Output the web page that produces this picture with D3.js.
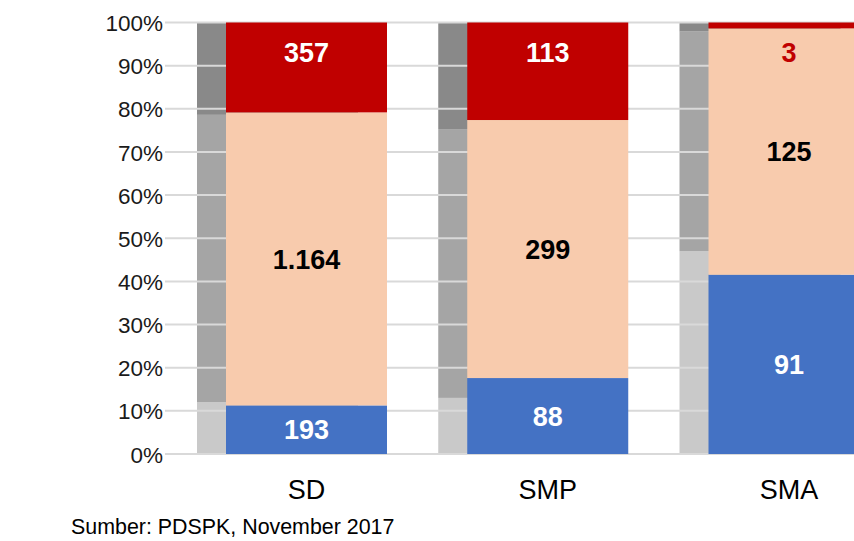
<!DOCTYPE html>
<html>
<head>
<meta charset="utf-8">
<script src="https://cdn.jsdelivr.net/npm/d3@7/dist/d3.min.js"></script>
<style>
  html, body { margin: 0; padding: 0; background: #fff; }
  svg { display: block; font-family: "Liberation Sans", Arial, sans-serif; }
</style>
</head>
<body>
<svg id="chart" width="854" height="541"></svg>
<script>
// ---- data ----
const categories = ["SD", "SMP", "SMA"];
const seriesNames = ["blue", "peach", "red"];
const blueValues  = [193, 88, 91];
const peachValues = [1164, 299, 125];
const redValues   = [357, 113, 3];
// background grey comparison bars (percent shares)
const greyLight = [12.0, 13.0, 47.0];
const greyMid   = [66.6, 62.3, 50.9];
const greyDark  = [21.4, 24.7, 2.1];
const yTicks = [0, 10, 20, 30, 40, 50, 60, 70, 80, 90, 100];
const sourceText = "Sumber: PDSPK, November 2017";

const colors = { blue: "#4472C4", peach: "#F8CBAD", red: "#C00000" };
const greyColors = ["#C9C9C9", "#A5A5A5", "#898989"];

const svg = d3.select("#chart");
const W = 854, H = 541;

const y = d3.scaleLinear().domain([0, 100]).range([454, 22.5]);
const x = d3.scalePoint().domain(categories).range([306.5, 789]);
const barW = 161, greyOffset = 29;

const fmt = v => d3.format(",")(v).replace(/,/g, ".");

// grey bars
const greyData = categories.map((c, i) => {
  const segs = [greyLight[i], greyMid[i], greyDark[i]];
  let acc = 0;
  return segs.map((v, k) => { const s = { cat: c, y0: acc, y1: acc + v, k }; acc += v; return s; });
}).flat();

svg.append("g").selectAll("rect").data(greyData).join("rect")
  .attr("x", d => x(d.cat) - barW / 2 - greyOffset)
  .attr("width", barW)
  .attr("y", d => y(Math.min(100, d.y1)))
  .attr("height", d => y(d.y0) - y(Math.min(100, d.y1)))
  .attr("fill", d => greyColors[d.k]);

// gridlines
svg.append("g").selectAll("line").data(yTicks).join("line")
  .attr("x1", 165).attr("x2", W)
  .attr("y1", d => y(d)).attr("y2", d => y(d))
  .attr("stroke", "#D9D9D9").attr("stroke-width", 2);

// y tick labels via axis
const yAxis = d3.axisLeft(y).tickValues(yTicks).tickFormat(d => d + "%").tickSize(0).tickPadding(0);
const ag = svg.append("g").attr("transform", "translate(163,0)").call(yAxis);
ag.select(".domain").remove();
ag.selectAll("text")
  .attr("font-size", "22.5px").attr("fill", "#1a1a1a")
  .attr("font-family", "'Liberation Sans', Arial, sans-serif")
  .attr("dy", "0.36em");

// stacked colored bars
const table = categories.map((c, i) => {
  const total = blueValues[i] + peachValues[i] + redValues[i];
  return { cat: c, blue: blueValues[i] / total * 100, peach: peachValues[i] / total * 100, red: redValues[i] / total * 100,
           raw: { blue: blueValues[i], peach: peachValues[i], red: redValues[i] } };
});
const stack = d3.stack().keys(seriesNames)(table);

const layers = svg.append("g").selectAll("g").data(stack).join("g")
  .attr("fill", d => colors[d.key]);
layers.selectAll("rect").data(d => d.map(p => ({ key: d.key, p }))).join("rect")
  .attr("x", d => x(d.p.data.cat) - barW / 2)
  .attr("width", barW)
  .attr("y", d => y(d.p[1]))
  .attr("height", d => y(d.p[0]) - y(d.p[1]));

// value labels
const labels = [];
stack.forEach(layer => {
  layer.forEach(p => {
    let cy, fill;
    if (layer.key === "red") {
      cy = y(93);
      fill = (p[0] <= 93) ? "#fff" : colors.red;
    } else {
      cy = (y(p[0]) + y(p[1])) / 2;
      fill = layer.key === "blue" ? "#fff" : "#000";
    }
    labels.push({ cat: p.data.cat, cy, fill, text: fmt(p.data.raw[layer.key]) });
  });
});
svg.append("g").selectAll("text").data(labels).join("text")
  .attr("x", d => x(d.cat))
  .attr("y", d => d.cy)
  .attr("dy", "0.36em")
  .attr("text-anchor", "middle")
  .attr("font-size", "27px").attr("font-weight", "bold")
  .attr("fill", d => d.fill)
  .text(d => d.text);

// category labels
svg.append("g").selectAll("text").data(categories).join("text")
  .attr("x", d => x(d)).attr("y", 499)
  .attr("text-anchor", "middle")
  .attr("font-size", "27px").attr("fill", "#000")
  .text(d => d);

// source
svg.append("text").attr("x", 71).attr("y", 534)
  .attr("font-size", "21.4px").attr("fill", "#000")
  .text(sourceText);
</script>
</body>
</html>
